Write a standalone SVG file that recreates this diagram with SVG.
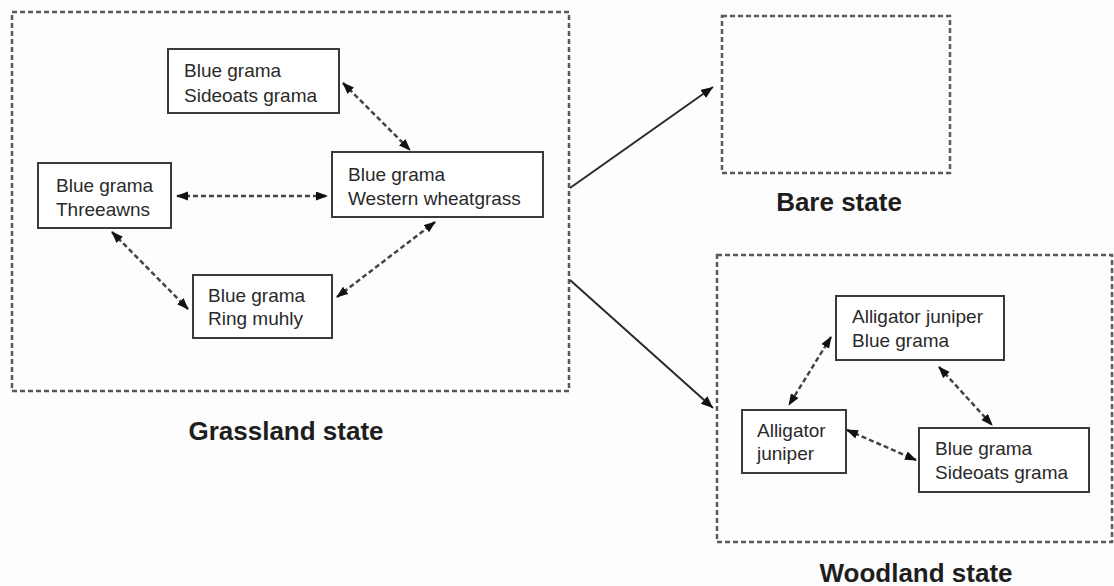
<svg xmlns="http://www.w3.org/2000/svg" width="1114" height="586" viewBox="0 0 1114 586">
<style>
.bg{fill:#fdfdfd}
.state{fill:none;stroke:#5a5a5a;stroke-width:2.5;stroke-dasharray:5 3}
.node{fill:#fff;stroke:#3a3a3a;stroke-width:2}
.t{font-family:"Liberation Sans",Arial,sans-serif;font-size:19px;fill:#2a2a2a}
.st{font-family:"Liberation Sans",Arial,sans-serif;font-size:26px;font-weight:bold;fill:#1e1e1e;text-anchor:middle}
.dl{fill:none;stroke:#444;stroke-width:2.5;stroke-dasharray:5 3;marker-start:url(#ah);marker-end:url(#ah)}
.sl{fill:none;stroke:#2a2a2a;stroke-width:2;marker-end:url(#ah2)}
</style>
<defs>
<marker id="ah" markerUnits="userSpaceOnUse" markerWidth="14" markerHeight="12" refX="11" refY="4.5" orient="auto-start-reverse"><path d="M0,0 L12,4.5 L0,9 z" fill="#111"/></marker>
<marker id="ah2" markerUnits="userSpaceOnUse" markerWidth="14" markerHeight="12" refX="12" refY="5" orient="auto"><path d="M0,0 L12,5 L0,10 z" fill="#111"/></marker>
</defs>
<rect class="bg" x="0" y="0" width="1114" height="586"/>
<g id="grassland-state">
<rect class="state" x="12" y="12" width="557" height="379"/>
<text class="st" x="286" y="440">Grassland state</text>
</g>
<g id="bare-state">
<rect class="state" x="722" y="16" width="228" height="157"/>
<text class="st" x="839" y="211">Bare state</text>
</g>
<g id="woodland-state">
<rect class="state" x="717" y="255" width="395" height="287"/>
<text class="st" x="916" y="582">Woodland state</text>
</g>
<g id="g-sideoats">
<rect class="node" x="168" y="49" width="171" height="64"/>
<text class="t" x="184" y="77">Blue grama</text>
<text class="t" x="184" y="102">Sideoats grama</text>
</g>
<g id="g-western">
<rect class="node" x="332" y="152" width="211" height="65"/>
<text class="t" x="348" y="181">Blue grama</text>
<text class="t" x="348" y="205">Western wheatgrass</text>
</g>
<g id="g-threeawns">
<rect class="node" x="38" y="163" width="133" height="65"/>
<text class="t" x="56" y="192">Blue grama</text>
<text class="t" x="56" y="216">Threeawns</text>
</g>
<g id="g-ringmuhly">
<rect class="node" x="193" y="275" width="139" height="63"/>
<text class="t" x="208" y="302">Blue grama</text>
<text class="t" x="208" y="325">Ring muhly</text>
</g>
<g id="w-aj-bg">
<rect class="node" x="836" y="296" width="168" height="64"/>
<text class="t" x="852" y="323">Alligator juniper</text>
<text class="t" x="852" y="347">Blue grama</text>
</g>
<g id="w-aj">
<rect class="node" x="742" y="410" width="104" height="63"/>
<text class="t" x="757" y="437">Alligator</text>
<text class="t" x="757" y="460">juniper</text>
</g>
<g id="w-bg-sg">
<rect class="node" x="919" y="428" width="170" height="64"/>
<text class="t" x="935" y="455">Blue grama</text>
<text class="t" x="935" y="479">Sideoats grama</text>
</g>
<g id="connectors">
<line class="dl" x1="343" y1="83" x2="410" y2="150"/>
<line class="dl" x1="177" y1="196" x2="327" y2="196"/>
<line class="dl" x1="112" y1="232" x2="188" y2="309"/>
<line class="dl" x1="337" y1="297" x2="435" y2="222"/>
<line class="dl" x1="831" y1="337" x2="789" y2="405"/>
<line class="dl" x1="939" y1="367" x2="992" y2="425"/>
<line class="dl" x1="847" y1="430" x2="916" y2="460"/>
<line class="sl" x1="570" y1="188" x2="713" y2="87"/>
<line class="sl" x1="570" y1="280" x2="713" y2="408"/>
</g>
</svg>
